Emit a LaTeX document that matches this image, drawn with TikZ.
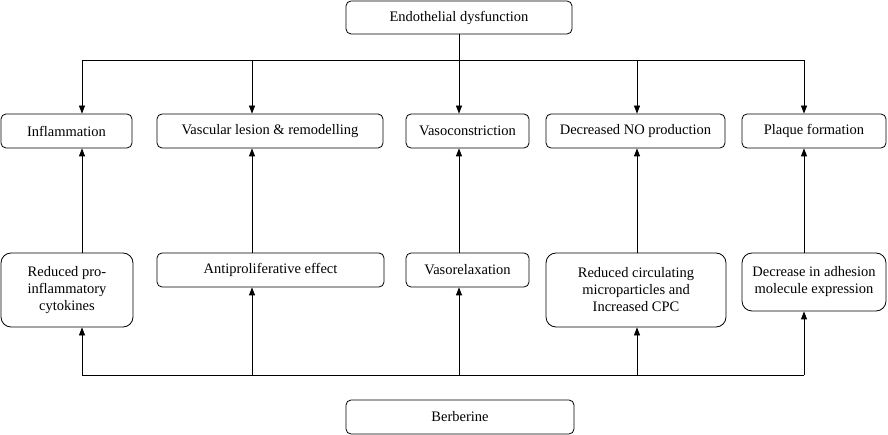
\documentclass[tikz,border=0pt]{standalone}
\usepackage{fontspec}
\setmainfont{Liberation Serif}
\newfontfamily\tnr{Liberation Serif}
\usetikzlibrary{arrows.meta}
\begin{document}
\begin{tikzpicture}[x=1pt,y=-1pt,
  box/.style={draw, rounded corners=5pt, line width=0.8pt, inner sep=0pt,
    font=\tnr\fontsize{14.5}{17}\selectfont, align=center},
  bigbox/.style={box, rounded corners=10pt},
  arr/.style={-{Triangle[length=8pt,width=6pt]}, line width=0.8pt},
  ln/.style={line width=0.8pt}]
\useasboundingbox (0,0) rectangle (888,435);
\fill[white] (0,0) rectangle (888,435);
% top
\node[box, minimum width=226pt, minimum height=33pt] (ed) at (459,17.5) {Endothelial dysfunction};
% row 2
\node[box, minimum width=131pt, minimum height=34pt] (infl) at (66.5,131) {Inflammation};
\node[box, minimum width=226pt, minimum height=34pt] (vasc) at (270,131) {Vascular lesion \& remodelling};
\node[box, minimum width=123pt, minimum height=34pt] (vcon) at (467.5,131) {Vasoconstriction};
\node[box, minimum width=179pt, minimum height=34pt] (dno) at (635.5,131) {Decreased NO production};
\node[box, minimum width=144pt, minimum height=34pt] (plq) at (814,131) {Plaque formation};
% row 3
\node[bigbox, minimum width=132pt, minimum height=74pt] (rpc) at (67,290) {Reduced pro-\\inflammatory\\cytokines};
\node[box, minimum width=227pt, minimum height=34pt] (anti) at (270.5,270) {Antiproliferative effect};
\node[box, minimum width=123pt, minimum height=34pt] (vrel) at (467.5,270) {Vasorelaxation};
\node[bigbox, minimum width=180pt, minimum height=74pt] (rcm) at (636,290) {Reduced circulating\\microparticles and\\Increased CPC};
\node[bigbox, minimum width=144pt, minimum height=58pt] (dam) at (814,282) {Decrease in adhesion\\molecule expression};
% bottom
\node[box, minimum width=228pt, minimum height=34pt] (ber) at (460,417) {Berberine};
% top connectors
\coordinate (h1) at (82,60);
\coordinate (h2) at (252,60);
\coordinate (h3) at (459,60);
\coordinate (h4) at (637,60);
\coordinate (h5) at (804,60);
\draw[ln] (h1) -- (h5);
\draw[arr] (ed.south -| h3) -- (h3 |- vcon.north);
\foreach \h/\n in {h1/infl, h2/vasc, h4/dno, h5/plq}
  \draw[arr] (\h) -- (\h |- \n.north);
% bottom connectors
\coordinate (b1) at (82,375);
\coordinate (b2) at (252,375);
\coordinate (b3) at (459,375);
\coordinate (b4) at (637,375);
\coordinate (b5) at (804,375);
\draw[ln] (b1) -- (b5);
\foreach \b/\m/\n in {b1/rpc/infl, b2/anti/vasc, b3/vrel/vcon, b4/rcm/dno, b5/dam/plq}{
  \draw[arr] (\b) -- (\b |- \m.south);
  \draw[arr] (\b |- \m.north) -- (\b |- \n.south);
}
\end{tikzpicture}
\end{document}
